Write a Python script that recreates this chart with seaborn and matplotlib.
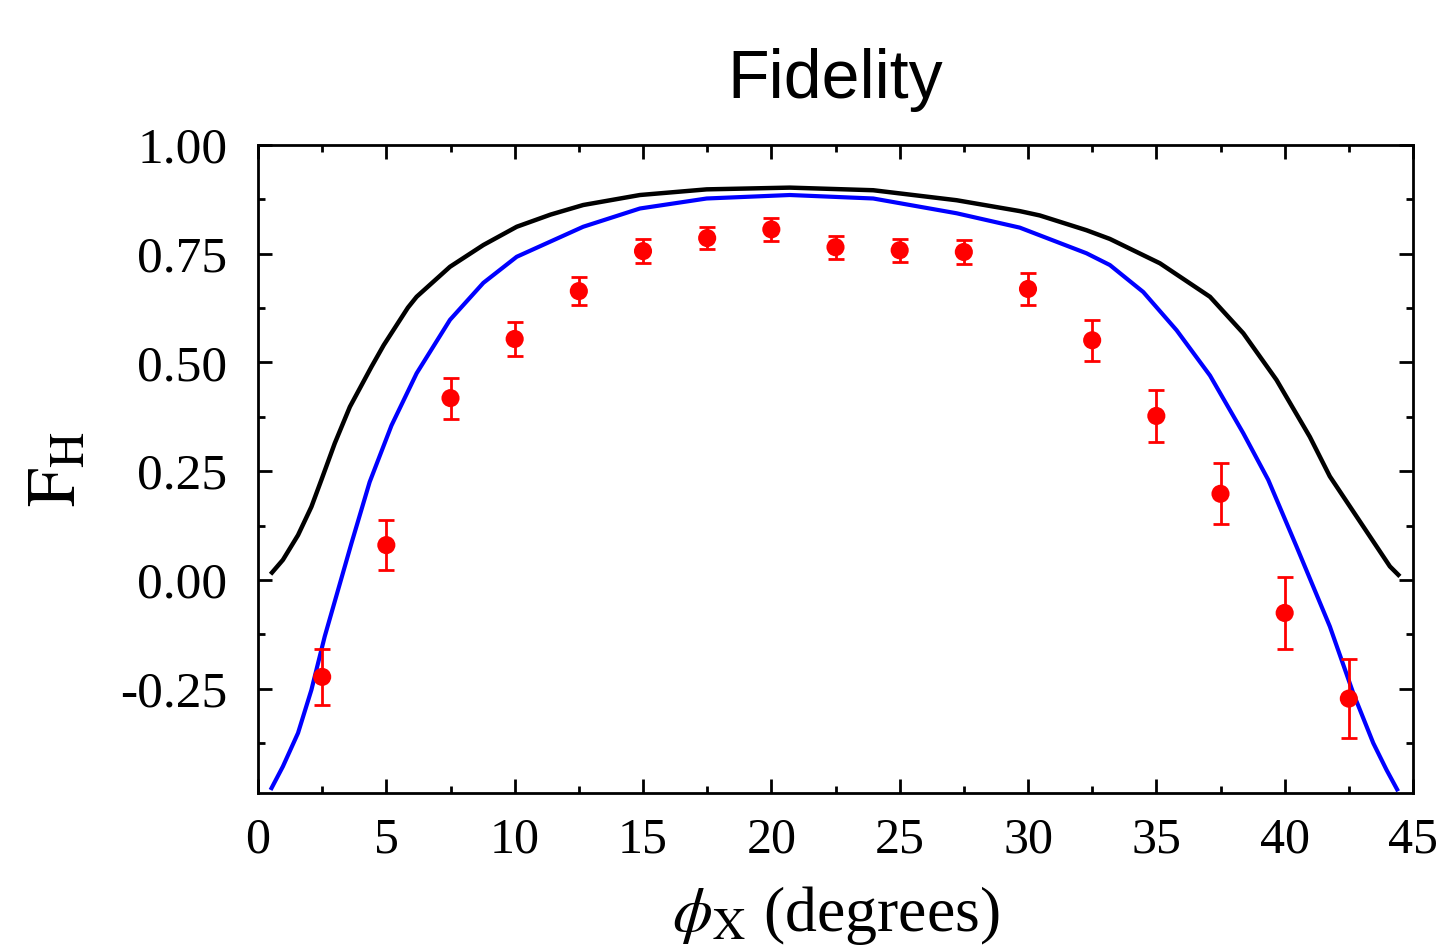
import numpy as np
import pandas as pd
import matplotlib
matplotlib.use("Agg")
import matplotlib.pyplot as plt
from matplotlib.ticker import MultipleLocator, FormatStrFormatter
import seaborn as sns

# ---- data ----
phi_points = [2.5, 5, 7.5, 10, 12.5, 15, 17.5, 20, 22.5, 25, 27.5, 30, 32.5, 35, 37.5, 40, 42.5]
fid_points = [-0.223, 0.080, 0.418, 0.554, 0.664, 0.756, 0.786, 0.806, 0.765, 0.758, 0.754,
              0.669, 0.551, 0.377, 0.198, -0.076, -0.273]
fid_err = [0.065, 0.058, 0.047, 0.039, 0.032, 0.028, 0.025, 0.027, 0.026, 0.027, 0.027,
           0.036, 0.047, 0.060, 0.070, 0.083, 0.090]

black_x = [0.49, 0.97, 1.56, 2.08, 2.47, 2.99, 3.58, 4.42, 4.90, 5.84, 6.18, 7.48, 8.78,
           10.08, 11.40, 12.67, 14.88, 17.48, 20.72, 23.97, 27.22, 29.68, 30.46, 32.28, 33.19,
           35.14, 37.09, 38.39, 39.68, 40.98, 41.76, 42.80, 43.58, 44.10, 44.49]
black_y = [0.013, 0.046, 0.103, 0.168, 0.230, 0.314, 0.398, 0.490, 0.540, 0.626, 0.651,
           0.720, 0.770, 0.812, 0.840, 0.862, 0.885, 0.898, 0.902, 0.896, 0.873, 0.848,
           0.838, 0.804, 0.784, 0.728, 0.651, 0.567, 0.460, 0.329, 0.238, 0.146, 0.077,
           0.031, 0.008]

blue_x = [0.49, 0.97, 1.56, 2.08, 2.60, 3.12, 3.64, 4.35, 5.20, 6.18, 7.48, 8.78, 10.08,
          12.67, 14.88, 17.48, 20.72, 23.97, 27.22, 29.68, 32.28, 33.19, 34.49, 35.79, 37.09,
          38.39, 39.36, 40.46, 41.76, 42.67, 43.45, 43.97, 44.42]
blue_y = [-0.483, -0.429, -0.352, -0.253, -0.130, -0.023, 0.084, 0.225, 0.355, 0.475,
          0.598, 0.683, 0.743, 0.812, 0.854, 0.877, 0.885, 0.877, 0.843, 0.810, 0.751, 0.724,
          0.662, 0.574, 0.470, 0.337, 0.230, 0.077, -0.107, -0.260, -0.375, -0.437, -0.486]

x_ticks = [0, 5, 10, 15, 20, 25, 30, 35, 40, 45]
y_ticks = [-0.25, 0.00, 0.25, 0.50, 0.75, 1.00]

# ---- style ----
sns.set_theme(style="ticks")
plt.rcParams["font.family"] = ["Liberation Serif", "DejaVu Serif"]
plt.rcParams["mathtext.fontset"] = "stix"
plt.rcParams["axes.unicode_minus"] = False
for k in ["text.color", "axes.labelcolor", "xtick.color", "ytick.color", "axes.edgecolor"]:
    plt.rcParams[k] = "black"

fig = plt.figure(figsize=(14.37, 9.46), dpi=100)
L, R, T, B = 258 / 1437, 1413 / 1437, 1 - 145 / 946, 1 - 793 / 946
ax = fig.add_axes([L, B, R - L, T - B])

df_black = pd.DataFrame({"x": black_x, "y": black_y})
df_blue = pd.DataFrame({"x": blue_x, "y": blue_y})
sns.lineplot(data=df_black, x="x", y="y", ax=ax, color="black",
             sort=False, estimator=None, zorder=2)
sns.lineplot(data=df_blue, x="x", y="y", ax=ax, color="#0000ff",
             sort=False, estimator=None, zorder=2)
ax.lines[0].set_linewidth(3.2)
ax.lines[1].set_linewidth(3.0)
for ln in ax.lines[:2]:
    ln.set_solid_joinstyle("round")
    ln.set_solid_capstyle("butt")

ax.errorbar(phi_points, fid_points, yerr=fid_err, fmt="none", ecolor="#ff0000",
            elinewidth=2.0, capsize=6, capthick=2.0, zorder=3)
sns.scatterplot(x=phi_points, y=fid_points, ax=ax, color="#ff0000", s=170,
                edgecolor="none", zorder=4)

ax.set_xlim(0, 45)
ax.set_ylim(-0.49, 1.0)
ax.set_xticks(x_ticks)
ax.set_yticks(y_ticks)
ax.xaxis.set_minor_locator(MultipleLocator(2.5))
ax.yaxis.set_minor_locator(MultipleLocator(0.125))
ax.yaxis.set_major_formatter(FormatStrFormatter("%.2f"))
ax.tick_params(which="both", direction="in", top=True, right=True, color="black", width=2)
ax.tick_params(which="major", length=10)
ax.tick_params(which="minor", length=5)
ax.tick_params(axis="x", which="major", labelsize=36, pad=17)
ax.tick_params(axis="y", which="major", labelsize=37, pad=22)
for sp in ax.spines.values():
    sp.set_linewidth(2)
    sp.set_color("black")
    sp.set_visible(True)

ax.set_xlabel(r"$\phi_{\mathrm{X}}$ (degrees)", fontsize=46)
ax.set_ylabel(r"$\mathrm{F}_{\mathrm{H}}$", fontsize=50)
ax.xaxis.set_label_coords(0.5, -0.140)
ax.yaxis.set_label_coords(-0.145, 0.5)

fig.text((L + R) / 2, 1 - 98 / 946, "Fidelity", family="Liberation Sans",
         fontsize=49, ha="center", va="baseline", color="black")

fig.savefig("out.png", dpi=100)
